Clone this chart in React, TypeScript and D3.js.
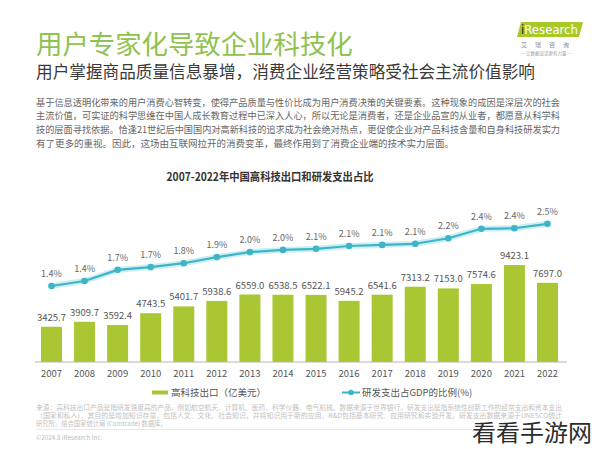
import React from "react";
import * as d3 from "d3";

const years = ["2007","2008","2009","2010","2011","2012","2013","2014","2015","2016","2017","2018","2019","2020","2021","2022"];
const exportsValues = [3425.7, 3909.7, 3592.4, 4743.5, 5401.7, 5938.6, 6559.0, 6538.5, 6522.1, 5945.2, 6541.6, 7313.2, 7153.0, 7574.6, 9423.1, 7697.0];
const rdShare = [1.37, 1.46, 1.66, 1.71, 1.78, 1.89, 1.98, 2.02, 2.04, 2.09, 2.11, 2.13, 2.23, 2.40, 2.41, 2.49];
const rdLabels = ["1.4%","1.4%","1.7%","1.7%","1.8%","1.9%","2.0%","2.0%","2.1%","2.1%","2.1%","2.1%","2.2%","2.4%","2.4%","2.5%"];

const title = "用户专家化导致企业科技化";
const subtitle = "用户掌握商品质量信息暴增，消费企业经营策略受社会主流价值影响";
const paragraph = [
  "基于信息透明化带来的用户消费心智转变，使得产品质量与性价比成为用户消费决策的关键要素。这种现象的成因是深层次的社会",
  "主流价值，可实证的科学思维在中国人成长教育过程中已深入人心，所以无论是消费者，还是企业品宣的从业者，都愿意从科学科",
  "技的层面寻找依据。恰逢21世纪后中国国内对高新科技的追求成为社会绝对热点，更促使企业对产品科技含量和自身科技研发实力",
  "有了更多的重视。因此，这场由互联网拉开的消费变革，最终作用到了消费企业端的技术实力层面。",
];
const chartTitle = "2007-2022年中国高科技出口和研发支出占比";
const legendBar = "高科技出口（亿美元）";
const legendLine = "研发支出占GDP的比例(%)";
const notes = [
  "来源：高科技出口产品是指研发强度高的产品，例如航空航天、计算机、医药、科学仪器、电气机械。数据来源于世界银行。研发支出是指系统性创新工作的经常支出和资本支出",
  "（国家和私人），其目的是增加知识存量，包括人文、文化、社会知识，并将知识用于新的应用。R&D包括基本研究、应用研究和实验开发。研发支出数据来源于UNESCO统计",
  "研究所。结合国家统计局 (Comtrade) 数据库。",
];
const copyright = "©2024.8 iResearch Inc.";
const watermark = "看看手游网";

const FONT = "'Noto Sans CJK SC', 'Noto Sans', sans-serif";

export default function App() {
  const W = 600, H = 449;
  const baseY = 362;
  const x = d3.scalePoint<string>().domain(years).range([51.5, 547.5]);
  const barW = 21;
  const yBar = d3.scaleLinear().domain([0, 10000]).range([baseY, baseY - 102.9]);
  const yLine = d3.scaleLinear().domain([0, 3]).range([baseY, baseY - 166.5]);
  const lineGen = d3.line<number>()
    .x((_, i) => x(years[i]) as number)
    .y((d) => yLine(d));
  const path = lineGen(rdShare) || "";
  const barColor = "#a8c733";
  const lineColor = "#3db5c7";

  return (
    <svg width={W} height={H} style={{ position: "absolute", left: 0, top: 0, background: "#fff" }} fontFamily={FONT}>
      <rect x={0} y={0} width={W} height={H} fill="#fff" />
      {/* Header */}
      <text x={36} y={54} fontSize={26.4} fill="#8fc24f">{title}</text>
      <text x={36} y={78} fontSize={16.5} fill="#3a3a3a" textLength={499} lengthAdjust="spacingAndGlyphs">{subtitle}</text>
      {paragraph.map((line, i) => (
        <text key={i} x={36} y={105.5 + i * 13.7} fontSize={9.5} fill="#666"
          textLength={i < 3 ? 524 : undefined} lengthAdjust="spacingAndGlyphs">{line}</text>
      ))}

      {/* Logo */}
      <polygon points="517,37 521,22 583,22 579,37" fill="#a9c829" />
      <text x={521} y={33.5} fontSize={11.5} fill="#fff" fontFamily="'DejaVu Sans', sans-serif"
        textLength={57} lengthAdjust="spacingAndGlyphs">
        <tspan fill="#222">i</tspan>Research
      </text>
      <text x={521} y={47} fontSize={6} fill="#8a8a8a" letterSpacing={8}>艾瑞咨询</text>
      <text x={521} y={55} fontSize={4.5} fill="#999">— 让数据说话更有力量 —</text>

      {/* Chart title */}
      <text x={270} y={181} fontSize={11.5} fontWeight="bold" fill="#333" textAnchor="middle"
        textLength={207} lengthAdjust="spacingAndGlyphs">{chartTitle}</text>

      {/* Bars */}
      {exportsValues.map((v, i) => {
        const cx = x(years[i]) as number;
        return (
          <g key={years[i]}>
            <rect x={cx - barW / 2} y={yBar(v)} width={barW} height={baseY - yBar(v)} fill={barColor} />
            <text x={cx} y={yBar(v) - 6} fontSize={9.5} fill="#555" textAnchor="middle">{v.toFixed(1)}</text>
          </g>
        );
      })}

      {/* Axis */}
      <line x1={35} x2={567} y1={baseY} y2={baseY} stroke="#b5b5b5" strokeWidth={1} />
      {years.map((yr) => (
        <text key={yr} x={x(yr) as number} y={377} fontSize={9.5} fill="#555" textAnchor="middle">{yr}</text>
      ))}

      {/* Line */}
      <path d={path} fill="none" stroke="#cdeff3" strokeWidth={6} strokeLinejoin="round" />
      <path d={path} fill="none" stroke={lineColor} strokeWidth={2.2} strokeLinejoin="round" />
      {rdShare.map((v, i) => (
        <g key={years[i]}>
          <circle cx={x(years[i]) as number} cy={yLine(v)} r={3.3} fill={lineColor} />
          <text x={x(years[i]) as number} y={yLine(v) - 9} fontSize={9} fill="#666" textAnchor="middle">{rdLabels[i]}</text>
        </g>
      ))}

      {/* Legend */}
      <rect x={152} y={390.5} width={16} height={4} fill={barColor} />
      <text x={171} y={396} fontSize={9.5} fill="#555">{legendBar}</text>
      <line x1={342} x2={360} y1={392.5} y2={392.5} stroke={lineColor} strokeWidth={2} />
      <circle cx={351} cy={392.5} r={2.8} fill={lineColor} />
      <text x={362} y={396} fontSize={9.5} fill="#555">{legendLine}</text>

      {/* Notes */}
      {notes.map((n, i) => (
        <text key={i} x={36} y={410 + i * 8} fontSize={6.3} fill="#c2c2c2"
          textLength={i < 2 ? 526 : undefined} lengthAdjust="spacingAndGlyphs">{n}</text>
      ))}
      <line x1={36} x2={565} y1={429.5} y2={429.5} stroke="#e2e2e2" strokeWidth={0.8} />
      <text x={36} y={440} fontSize={6.3} fill="#bdbdbd">{copyright}</text>

      {/* Watermark */}
      <text x={472} y={441} fontSize={22.5} fill="#2b2b2b" stroke="#fff" strokeWidth={2} paintOrder="stroke"
        textLength={120} lengthAdjust="spacingAndGlyphs">{watermark}</text>
    </svg>
  );
}
